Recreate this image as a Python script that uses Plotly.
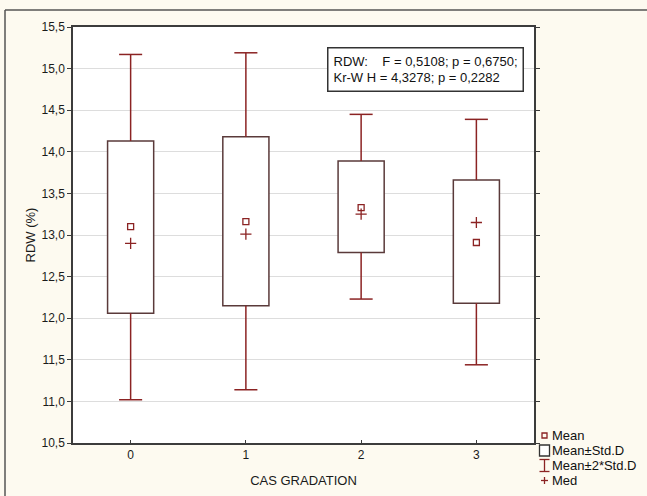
import plotly.graph_objects as go

# ---- data ----
groups = [0, 1, 2, 3]
group_labels = ["0", "1", "2", "3"]
means = [13.10, 13.16, 13.33, 12.91]
medians = [12.90, 13.01, 13.25, 13.15]
sd_low = [12.06, 12.15, 12.79, 12.18]
sd_high = [14.13, 14.18, 13.89, 13.66]
sd2_low = [11.02, 11.14, 12.23, 11.44]
sd2_high = [15.17, 15.19, 14.45, 14.39]
y_ticks = [10.5, 11.0, 11.5, 12.0, 12.5, 13.0, 13.5, 14.0, 14.5, 15.0, 15.5]
stats_text = "RDW:\u00a0\u00a0\u00a0\u00a0F = 0,5108; p = 0,6750;<br>Kr-W H = 4,3278; p = 0,2282"
legend_labels = ["Mean", "Mean±Std.D", "Mean±2*Std.D", "Med"]

# ---- styles ----
RED = "#8b2323"
BOXC = "#5a3a3a"
AX = "#3c3c3c"
FONT = "Liberation Sans, Arial, sans-serif"
BOX_W = 0.4
CAP_HALF = 0.1
W, H = 647, 496
ML, MR, MT, MB = 73, 113, 27, 53
PL, PR, PT, PB = ML, W - MR, MT, H - MB


def px(x):
    return (x - PL) / (PR - PL)


def py(y):
    return (PB - y) / (PB - PT)


fig = go.Figure()

# boxes: mean +/- SD
fig.add_trace(go.Bar(
    x=groups,
    y=[h - l for h, l in zip(sd_high, sd_low)],
    base=sd_low,
    width=BOX_W,
    marker=dict(color="white", line=dict(color=BOXC, width=1.5)),
    showlegend=False, hoverinfo="skip",
))

# whiskers: mean +/- 2 SD
wx, wy = [], []
for g, bl, bh, wl, wh in zip(groups, sd_low, sd_high, sd2_low, sd2_high):
    wx += [g, g, None, g, g, None, g - CAP_HALF, g + CAP_HALF, None, g - CAP_HALF, g + CAP_HALF, None]
    wy += [bh, wh, None, bl, wl, None, wh, wh, None, wl, wl, None]
fig.add_trace(go.Scatter(
    x=wx, y=wy, mode="lines",
    line=dict(color=RED, width=1.5),
    showlegend=False, hoverinfo="skip",
))

# means
fig.add_trace(go.Scatter(
    x=groups, y=means, mode="markers",
    marker=dict(symbol="square-open", size=6, color=RED, line=dict(width=1.3)),
    showlegend=False,
))
# medians
fig.add_trace(go.Scatter(
    x=groups, y=medians, mode="markers",
    marker=dict(symbol="cross-thin-open", size=8, color=RED, line=dict(width=1.3, color=RED)),
    showlegend=False,
))

fig.update_layout(
    width=W, height=H,
    margin=dict(l=ML, r=MR, t=MT, b=MB, autoexpand=False),
    paper_bgcolor="#fdfaf0",
    plot_bgcolor="white",
    separators=",.",
    font=dict(family=FONT, size=12, color="#1a1a1a"),
    showlegend=False,
    xaxis=dict(
        range=[-0.5, 3.5], tickvals=groups, ticktext=group_labels,
        ticks="inside", ticklen=3, tickcolor=AX, tickwidth=1,
        showgrid=False, zeroline=False, automargin=False,
        showline=True, linecolor=AX, linewidth=1.5, mirror=True,
        title=dict(text="CAS GRADATION", standoff=15, font=dict(size=13)),
        tickfont=dict(size=12),
    ),
    yaxis=dict(
        range=[10.5, 15.5], tickvals=y_ticks, tickformat=".1f",
        ticks="outside", ticklen=4, tickcolor=AX, tickwidth=1,
        showgrid=True, gridcolor="#dddddd", gridwidth=1, zeroline=False, automargin=False,
        showline=True, linecolor=AX, linewidth=1.5, mirror="ticks",
        title=dict(text="RDW (%)", standoff=3, font=dict(size=13)),
        tickfont=dict(size=12),
    ),
)

# outer frame: top and left edges only
for (x0, y0, x1, y1) in [(5, 10, W + 5, 10), (5, 10, 5, H + 5)]:
    fig.add_shape(type="line", xref="paper", yref="paper",
                  x0=px(x0), x1=px(x1), y0=py(y0), y1=py(y1),
                  line=dict(color="#555555", width=1.5), layer="below")

# stats text box
fig.add_annotation(
    xref="paper", yref="paper", x=px(327), y=py(47),
    xanchor="left", yanchor="top", align="left",
    text=stats_text, showarrow=False,
    font=dict(family=FONT, size=13, color="#111111"),
    bgcolor="white", bordercolor="#333333", borderwidth=1.5, borderpad=5,
)

# legend: symbols as shapes, labels as text
leg_y = [435.5, 450.5, 465.5, 480.5]
sym_x = 544.5
# mean: small square
fig.add_shape(type="rect", xref="paper", yref="paper",
              x0=px(sym_x - 2.5), x1=px(sym_x + 2.5), y0=py(leg_y[0] + 2.5), y1=py(leg_y[0] - 2.5),
              line=dict(color=RED, width=1.3), fillcolor="rgba(0,0,0,0)")
# mean +/- SD: box
fig.add_shape(type="rect", xref="paper", yref="paper",
              x0=px(sym_x - 5), x1=px(sym_x + 5), y0=py(leg_y[1] + 5.5), y1=py(leg_y[1] - 5.5),
              line=dict(color="#333333", width=1.3), fillcolor="white")
# mean +/- 2SD: I-beam
for (x0, y0, x1, y1) in [(sym_x, leg_y[2] - 6, sym_x, leg_y[2] + 6),
                         (sym_x - 5, leg_y[2] - 6, sym_x + 5, leg_y[2] - 6),
                         (sym_x - 5, leg_y[2] + 6, sym_x + 5, leg_y[2] + 6)]:
    fig.add_shape(type="line", xref="paper", yref="paper",
                  x0=px(x0), x1=px(x1), y0=py(y0), y1=py(y1),
                  line=dict(color=RED, width=1.3))
# median: plus
for (x0, y0, x1, y1) in [(sym_x - 3.5, leg_y[3], sym_x + 3.5, leg_y[3]),
                         (sym_x, leg_y[3] - 3.5, sym_x, leg_y[3] + 3.5)]:
    fig.add_shape(type="line", xref="paper", yref="paper",
                  x0=px(x0), x1=px(x1), y0=py(y0), y1=py(y1),
                  line=dict(color=RED, width=1.3))

for label, ypx in zip(legend_labels, leg_y):
    fig.add_annotation(
        xref="paper", yref="paper", x=px(551), y=py(ypx),
        xanchor="left", yanchor="middle", align="left",
        text=label, showarrow=False, borderpad=0,
        font=dict(family=FONT, size=13, color="#111111"),
    )

fig.write_html("out.html", config={"displayModeBar": False})
